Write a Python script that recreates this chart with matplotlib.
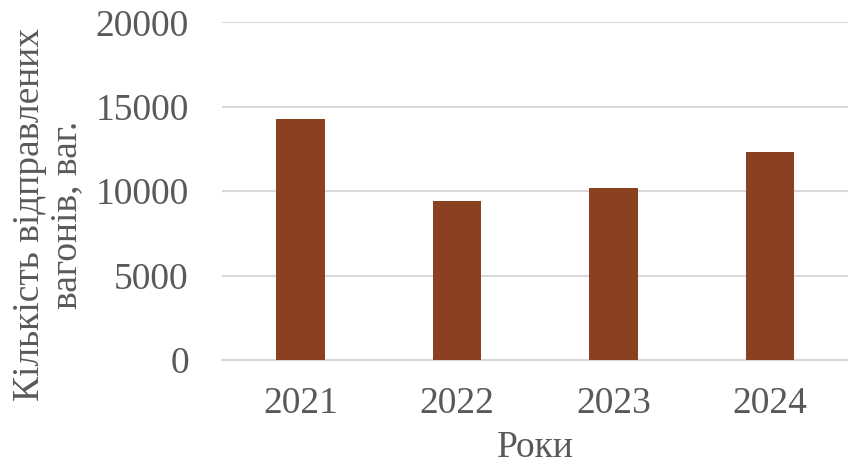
import matplotlib
matplotlib.use('Agg')
from matplotlib import pyplot as plt

years = ['2021', '2022', '2023', '2024']
wagons = [14300, 9420, 10190, 12300]

plt.rcParams['font.family'] = ['Liberation Serif', 'DejaVu Serif']

fig = plt.figure(figsize=(8.48, 4.68), dpi=100)
ax = fig.add_axes([0.262, 0.231, 0.738, 0.721])

ax.bar(range(len(years)), wagons, width=0.31, color='#8B4121', zorder=3)

ax.set_xlim(-0.5, 3.5)
ax.set_ylim(0, 20000)
ax.set_yticks([0, 5000, 10000, 15000, 20000])
ax.set_xticks(range(len(years)))
ax.set_xticklabels(years)

ax.grid(axis='y', color='#d9d9d9', linewidth=1.5, zorder=0)
for s in ['top', 'right', 'left']:
    ax.spines[s].set_visible(False)
ax.spines['bottom'].set_color('#d9d9d9')
ax.spines['bottom'].set_linewidth(1.5)
ax.tick_params(axis='both', length=0, labelsize=27, colors='#595959')
ax.tick_params(axis='x', pad=19)
ax.tick_params(axis='y', pad=24)

# Axis Labeling
ax.set_xlabel('Роки', fontsize=27, color='#595959', labelpad=7)
ax.set_ylabel('Кількість відправлених\nвагонів, ваг.', fontsize=27,
              color='#595959', linespacing=1.1)
ax.yaxis.set_label_coords(-0.22, 0.43)

fig.savefig('out.png', dpi=100)
